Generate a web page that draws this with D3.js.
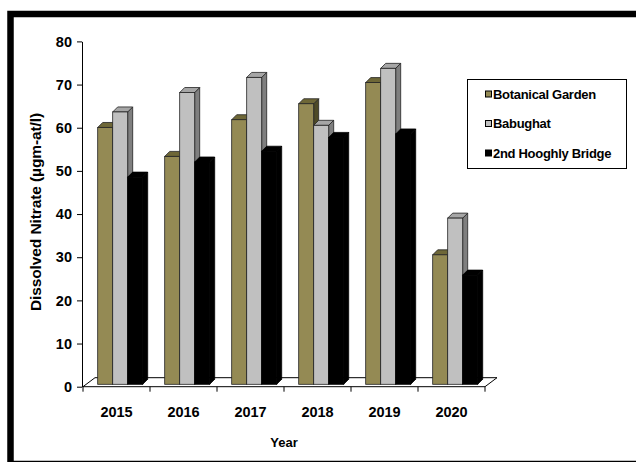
<!DOCTYPE html>
<html><head><meta charset="utf-8">
<script src="https://cdn.jsdelivr.net/npm/d3@7"></script>
<style>
html,body{margin:0;padding:0;background:#fff;}
svg{display:block;font-family:"Liberation Sans",Arial,sans-serif;font-weight:bold;}
</style></head>
<body>
<svg id="chart" width="636" height="462"></svg>
<script>
const years = ['2015','2016','2017','2018','2019','2020'];
const seriesNames = ['Botanical Garden','Babughat','2nd Hooghly Bridge'];
const botanicalGarden = [59.5, 52.8, 61.3, 65.0, 69.9, 30.0];
const babughat = [63.1, 67.6, 71.1, 60.0, 73.2, 38.5];
const hooghlyBridge = [48.0, 51.5, 54.0, 57.2, 58.0, 25.3];
const yTicks = [0,10,20,30,40,50,60,70,80];
const yTitle = 'Dissolved Nitrate (µgm-at/l)';
const xTitle = 'Year';

const seriesValues = [botanicalGarden, babughat, hooghlyBridge];
const fronts = ['#948A54','#C0C0C0','#000000'];
const tops = ['#6E6737','#A6A6A6','#000000'];
const sides = ['#4E4A27','#7F7F7F','#000000'];

const svg = d3.select('#chart');

// outer frame
svg.append('rect').attr('x',10.5).attr('y',14).attr('width',700).attr('height',450)
  .attr('fill','#fff').attr('stroke','#000').attr('stroke-width',6.5);

const x = d3.scaleBand().domain(years).range([83,485]).padding(0);
const xs = d3.scaleBand().domain(seriesNames).range([0,x.bandwidth()])
  .paddingInner(0).paddingOuter(0.733).align(0.668);
const y = d3.scaleLinear().domain([0,80]).range([386.7,41.4]);

const depthX = 12, depthY = 9;   // floor depth
const barShift = 2.4;            // bars stand slightly behind front edge
const d = 5;                     // bar 3D depth

// floor
const y0 = y(0);
svg.append('polygon')
  .attr('points',[[x.range()[0],y0],[x.range()[1],y0],[x.range()[1]+depthX,y0-depthY],[x.range()[0]+depthX,y0-depthY]].map(p=>p.join(',')).join(' '))
  .attr('fill','#fff').attr('stroke','#000').attr('stroke-width',1);

// y axis
const yAxis = d3.axisLeft(y).tickValues(yTicks).tickSize(5).tickSizeOuter(0).tickPadding(5);
const gy = svg.append('g').attr('transform','translate(82,0)').call(yAxis);
gy.select('.domain').attr('stroke','#000').attr('stroke-width',1);
gy.selectAll('.tick line').attr('stroke','#000');
gy.selectAll('.tick text').attr('font-size',14.5).attr('font-weight','bold').attr('fill','#000')
  .attr('font-family','"Liberation Sans",Arial,sans-serif');

// x axis labels
const xAxis = d3.axisBottom(x).tickSize(0).tickPadding(20);
const gx = svg.append('g').attr('transform',`translate(0,${y0})`).call(xAxis);
gx.select('.domain').remove();
gx.selectAll('.tick text').attr('font-size',14.5).attr('font-weight','bold').attr('fill','#000')
  .attr('font-family','"Liberation Sans",Arial,sans-serif');
// category boundary ticks
const bounds = years.map(v=>x(v)).concat([x.range()[1]]);
svg.append('g').selectAll('line').data(bounds).join('line')
  .attr('x1',v=>v).attr('x2',v=>v).attr('y1',y0).attr('y2',y0+5)
  .attr('stroke','#000').attr('stroke-width',1);

// bars
const bars = svg.append('g');
years.forEach((yr,i)=>{
  seriesNames.forEach((s,j)=>{
    const v = seriesValues[j][i];
    const x0 = x(yr)+xs(s), w = xs.bandwidth();
    const top = y(v)-barShift, bot = y(0)-barShift;
    const g = bars.append('g');
    const stroke = j===2 ? '#000' : '#222';
    g.append('polygon')
      .attr('points',[[x0+w,top],[x0+w+d,top-d],[x0+w+d,bot-d],[x0+w,bot]].map(p=>p.join(',')).join(' '))
      .attr('fill',sides[j]).attr('stroke',stroke).attr('stroke-width',0.8);
    g.append('polygon')
      .attr('points',[[x0,top],[x0+d,top-d],[x0+w+d,top-d],[x0+w,top]].map(p=>p.join(',')).join(' '))
      .attr('fill',tops[j]).attr('stroke',stroke).attr('stroke-width',0.8);
    g.append('rect').attr('x',x0).attr('y',top).attr('width',w).attr('height',bot-top)
      .attr('fill',fronts[j]).attr('stroke',stroke).attr('stroke-width',0.8);
  });
});

// axis titles
svg.append('text').attr('x',284).attr('y',446.5).attr('text-anchor','middle')
  .attr('font-size',13).text(xTitle);
svg.append('text').attr('transform','translate(40.5,212) rotate(-90)').attr('text-anchor','middle')
  .attr('font-size',15.5).attr('letter-spacing',-0.1).text(yTitle);

// legend
const lg = svg.append('g');
lg.append('rect').attr('x',467.5).attr('y',79.5).attr('width',159).attr('height',89)
  .attr('fill','#fff').attr('stroke','#000').attr('stroke-width',1);
const rowY = d3.scalePoint().domain(seriesNames).range([94,153]);
seriesNames.forEach((s,j)=>{
  const cy = rowY(s);
  lg.append('rect').attr('x',485.5).attr('y',cy-3).attr('width',6).attr('height',6)
    .attr('fill',fronts[j]).attr('stroke','#000').attr('stroke-width',1);
  lg.append('text').attr('x',493).attr('y',cy+4.6).attr('font-size',13)
    .attr('letter-spacing',-0.3).text(s);
});
</script>
</body></html>
